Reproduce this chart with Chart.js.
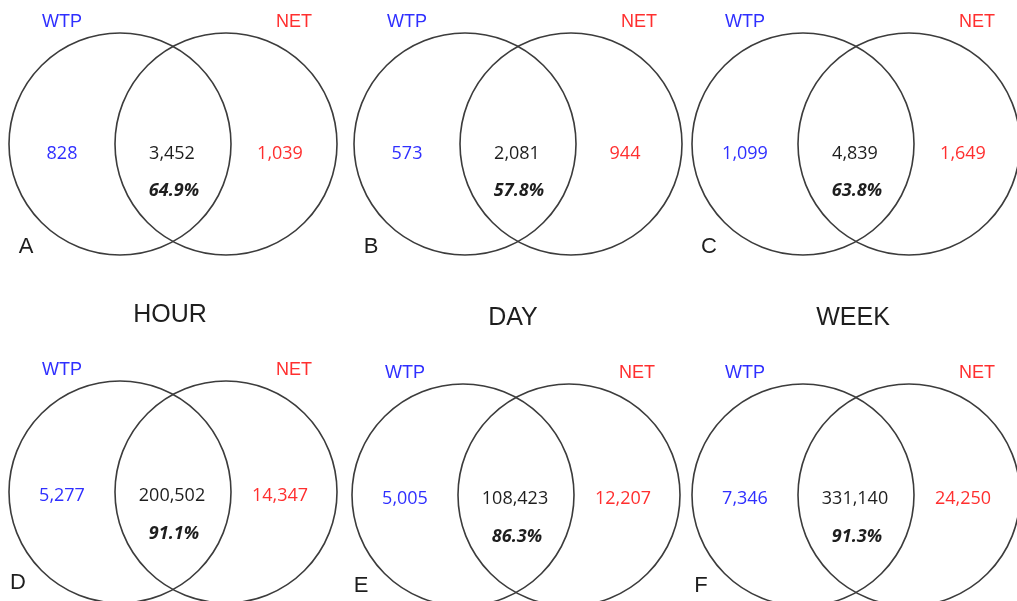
<!DOCTYPE html>
<html>
<head>
<meta charset="utf-8">
<script src="https://cdn.jsdelivr.net/npm/chart.js@4.4.1/dist/chart.umd.min.js"></script>
<style>
  html, body { margin: 0; padding: 0; background: #fff; }
  #venn { display: block; }
</style>
</head>
<body>
<canvas id="venn" width="1017" height="601"></canvas>
<script>
// values
const panelLetters = ['A', 'B', 'C', 'D', 'E', 'F'];
const panelTitles = ['', '', '', 'HOUR', 'DAY', 'WEEK'];
const setNames = ['WTP', 'NET'];
const wtpOnly = [828, 573, 1099, 5277, 5005, 7346];
const shared = [3452, 2081, 4839, 200502, 108423, 331140];
const netOnly = [1039, 944, 1649, 14347, 12207, 24250];
const sharedPct = [64.9, 57.8, 63.8, 91.1, 86.3, 91.3];

// layout (pixel space of the 1017x601 canvas)
const W = 1017, H = 601;
const panelX = [173, 518, 856, 173, 516, 856];
const panelY = [144, 144, 144, 492, 495, 495];
const halfGap = 53;
const radius = 111;

const BLUE = '#2f2fff', RED = '#ff2f2f', INK = '#1e1e1e', LINE = '#3c3c3c';

// two circles per panel
const circles = [];
panelX.forEach((x, i) => {
  circles.push({ x: x - halfGap, y: panelY[i], r: radius });
  circles.push({ x: x + halfGap, y: panelY[i], r: radius });
});

const fmt = v => v.toLocaleString('en-US');

const vennText = {
  id: 'vennText',
  afterDatasetsDraw(chart) {
    const ctx = chart.ctx;
    const xs = chart.scales.x, ys = chart.scales.y;
    const put = (txt, x, y, font, color) => {
      ctx.font = font;
      ctx.fillStyle = color;
      ctx.textAlign = 'center';
      ctx.textBaseline = 'middle';
      ctx.fillText(txt, xs.getPixelForValue(x), ys.getPixelForValue(y));
    };
    ctx.save();
    panelLetters.forEach((letter, i) => {
      const cx = panelX[i], cy = panelY[i];
      const bottom = i >= 3;
      put(setNames[0], cx - 111, cy - 122, '18px "Liberation Sans", Arial', BLUE);
      put(setNames[1], cx + 121, cy - 122, '18px "Liberation Sans", Arial', RED);
      const ny = cy + (bottom ? 4 : 10);
      put(fmt(wtpOnly[i]), cx - 111, ny, '18px "Open Sans"', BLUE);
      put(fmt(shared[i]), cx - 1, ny, '18px "Open Sans"', INK);
      put(fmt(netOnly[i]), cx + 107, ny, '18px "Open Sans"', RED);
      put(sharedPct[i].toFixed(1) + '%', cx + 1, cy + (bottom ? 42 : 47), 'italic bold 18px "Open Sans"', INK);
      put(letter, cx - (bottom ? 155 : 147), cy + (bottom ? 91 : 103), '22px "Liberation Sans", Arial', INK);
      if (panelTitles[i]) put(panelTitles[i], cx - 3, cy - 177, '25px "Liberation Sans", Arial', INK);
    });
    ctx.restore();
  }
};

new Chart(document.getElementById('venn'), {
  type: 'bubble',
  data: {
    datasets: [{
      data: circles,
      backgroundColor: 'rgba(0,0,0,0)',
      borderColor: LINE,
      borderWidth: 1.6,
      hoverRadius: 0,
      clip: false
    }]
  },
  options: {
    responsive: false,
    animation: false,
    events: [],
    layout: { padding: 0, autoPadding: false },
    plugins: { legend: { display: false }, tooltip: { enabled: false } },
    scales: {
      x: { type: 'linear', min: 0, max: W, display: false },
      y: { type: 'linear', min: 0, max: H, reverse: true, display: false }
    }
  },
  plugins: [vennText]
});
</script>
</body>
</html>
